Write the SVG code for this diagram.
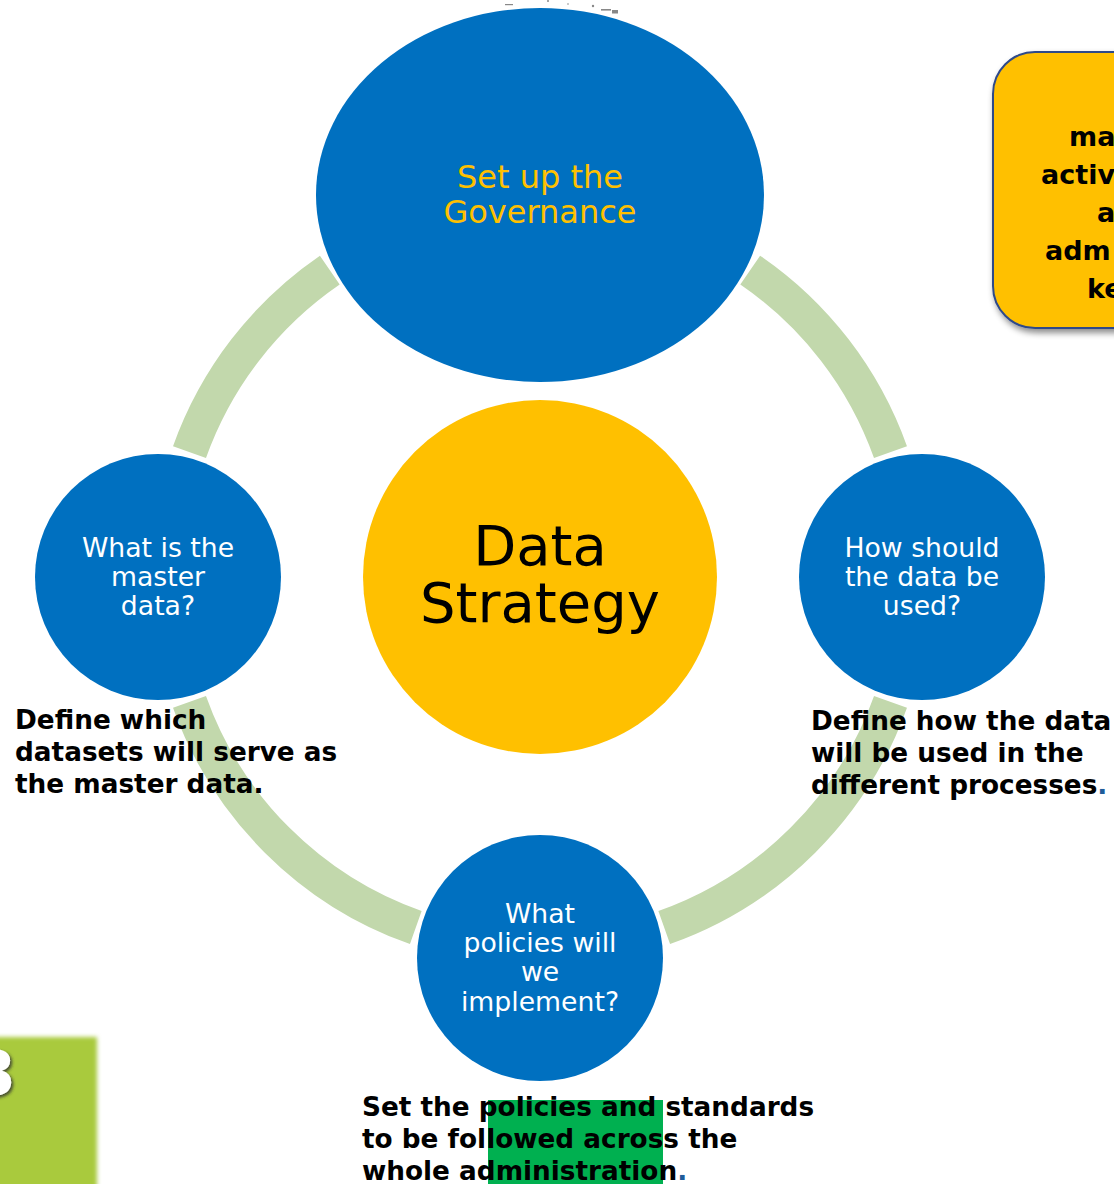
<svg xmlns="http://www.w3.org/2000/svg" width="1114" height="1184" viewBox="0 0 1114 1184">
<style>
.ring{fill:none;stroke:#C2D8AC;stroke-width:35;stroke-linecap:butt}
.node{fill:#0070C0}
.lbl{font-family:"DejaVu Sans","Verdana",sans-serif;font-size:26.7px;fill:#FFFFFF;text-anchor:middle}
.desc{font-family:"DejaVu Sans","Verdana",sans-serif;font-size:26.3px;font-weight:bold;fill:#000000}
.dot{fill:#1F5C99}
</style>
<defs>
<filter id="shadow" x="-20%" y="-20%" width="140%" height="140%">
<feDropShadow dx="2" dy="4" stdDeviation="3" flood-color="#000000" flood-opacity="0.45"/>
</filter>
<filter id="soft" x="-20%" y="-20%" width="140%" height="140%">
<feGaussianBlur stdDeviation="2"/>
</filter>
<filter id="tshadow" x="-30%" y="-30%" width="160%" height="160%">
<feDropShadow dx="2" dy="2" stdDeviation="1.5" flood-color="#333333" flood-opacity="0.8"/>
</filter>
</defs>
<rect width="1114" height="1184" fill="#FFFFFF"/>

<g id="connectors">
<path class="ring" d="M189.5,452.2 A372,372 0 0 1 329.8,270.1"/>
<path class="ring" d="M750.2,270.1 A372,372 0 0 1 890.5,452.2"/>
<path class="ring" d="M890.5,701.8 A372,372 0 0 1 664.2,927.6"/>
<path class="ring" d="M415.8,927.6 A372,372 0 0 1 189.5,701.8"/>
</g>

<g id="marks" fill="#888888">
<rect x="505" y="4" width="8" height="1.2"/>
<circle cx="548" cy="1" r="1"/>
<circle cx="568" cy="4" r="0.8"/>
<circle cx="593" cy="6" r="1.2"/>
<rect x="601" y="9" width="10" height="1.6"/>
<rect x="612" y="10" width="6" height="3.5"/>
</g>

<g id="node-governance">
<ellipse class="node" cx="540" cy="195" rx="224" ry="187"/>
<text class="lbl" style="font-size:32px;fill:#FFC000" x="540" y="188">Set up the</text>
<text class="lbl" style="font-size:32px;fill:#FFC000" x="540" y="223">Governance</text>
</g>

<g id="node-strategy">
<circle cx="540" cy="577" r="177" fill="#FFC000"/>
<text class="lbl" style="font-size:56px;fill:#000000" x="540" y="565">Data</text>
<text class="lbl" style="font-size:56px;fill:#000000" x="540" y="622">Strategy</text>
</g>

<g id="node-master">
<circle class="node" cx="158" cy="577" r="123"/>
<text class="lbl" x="158" y="557">What is the</text>
<text class="lbl" x="158" y="586">master</text>
<text class="lbl" x="158" y="615">data?</text>
</g>

<g id="node-usage">
<circle class="node" cx="922" cy="577" r="123"/>
<text class="lbl" x="922" y="557">How should</text>
<text class="lbl" x="922" y="586">the data be</text>
<text class="lbl" x="922" y="615">used?</text>
</g>

<g id="node-policies">
<circle class="node" cx="540" cy="958" r="123"/>
<text class="lbl" x="540" y="923">What</text>
<text class="lbl" x="540" y="952">policies will</text>
<text class="lbl" x="540" y="981">we</text>
<text class="lbl" x="540" y="1011">implement?</text>
</g>

<g id="desc-master">
<text class="desc" x="15" y="729">Define which</text>
<text class="desc" x="15" y="761">datasets will serve as</text>
<text class="desc" x="15" y="793">the master data.</text>
</g>

<g id="desc-usage">
<text class="desc" x="811" y="730">Define how the data</text>
<text class="desc" x="811" y="762">will be used in the</text>
<text class="desc" x="811" y="794">different processes<tspan class="dot">.</tspan></text>
</g>

<g id="desc-policies">
<rect x="488" y="1100" width="175" height="84" fill="#00B050"/>
<text class="desc" x="362" y="1116">Set the policies and standards</text>
<text class="desc" x="362" y="1148">to be followed across the</text>
<text class="desc" x="362" y="1180">whole administration<tspan class="dot">.</tspan></text>
</g>

<g id="callout">
<rect x="993" y="52" width="180" height="276" rx="42" ry="42" fill="#FFC000" stroke="#2F4A8A" stroke-width="2" filter="url(#shadow)"/>
<text class="desc" style="font-size:27px" x="1069" y="146">ma</text>
<text class="desc" style="font-size:27px" x="1041" y="184">activ</text>
<text class="desc" style="font-size:27px" x="1097" y="222">a</text>
<text class="desc" style="font-size:27px" x="1045" y="260">adm</text>
<text class="desc" style="font-size:27px" x="1087" y="298">ke</text>
</g>

<g id="step-badge">
<rect x="-10" y="1037" width="107" height="160" fill="#A9CA3C" filter="url(#soft)"/>
<text x="-27" y="1095" font-family="DejaVu Sans, Verdana, sans-serif" font-size="62" font-weight="bold" fill="#FFFFFF" filter="url(#tshadow)">3</text>
</g>
</svg>
